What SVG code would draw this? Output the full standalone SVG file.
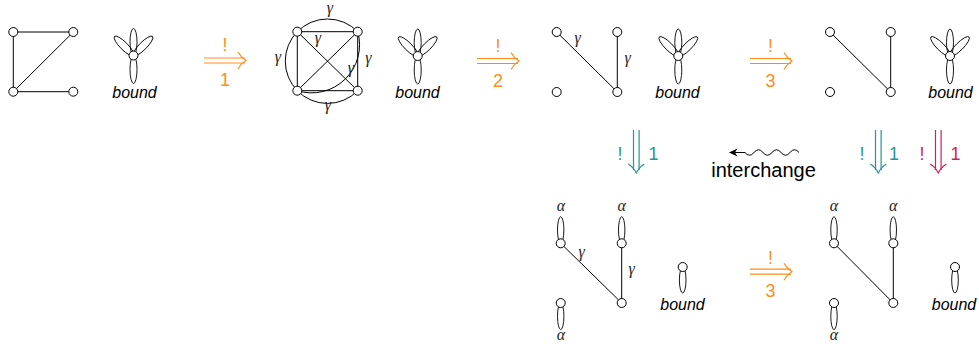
<svg xmlns="http://www.w3.org/2000/svg" xmlns:xlink="http://www.w3.org/1999/xlink" width="979" height="344" viewBox="0 0 979 344">
<style>
.e{fill:none;stroke:#000;stroke-width:1}
.n{fill:#fff;stroke:#000;stroke-width:1}
.p{fill:none;stroke:#000;stroke-width:0.9}
.g{font-family:"Liberation Serif",serif;font-style:italic;font-size:16px;fill:#222;text-anchor:middle}
.b{font-family:"Liberation Sans",Arial,sans-serif;font-style:italic;font-size:16px;fill:#000;text-anchor:middle}
.lab{font-family:"Liberation Sans",Arial,sans-serif;font-size:18px;text-anchor:middle}
.or{stroke:#FF8C1A;fill:none;stroke-width:1.2}
.te{stroke:#269696;fill:none;stroke-width:1.2}
.mg{stroke:#D21E5A;fill:none;stroke-width:1.2}
</style>
<defs>
<g id="flower">
<ellipse class="p" cx="0" cy="-13.5" rx="3.5" ry="13.5"/>
<ellipse class="p" cx="0" cy="14" rx="3.5" ry="14"/>
<ellipse class="p" cx="-9.5" cy="-9.5" rx="13.5" ry="3.8" transform="rotate(45 -9.5 -9.5)"/>
<ellipse class="p" cx="9.5" cy="-9.5" rx="13.5" ry="3.8" transform="rotate(-45 9.5 -9.5)"/>
<circle class="n" cx="0" cy="0" r="4.5"/>
</g>
<g id="petal1">
<ellipse class="p" cx="0" cy="13" rx="3.3" ry="13"/>
<circle class="n" cx="0" cy="0" r="4.5"/>
</g>
<g id="loopUp">
<ellipse class="p" cx="0" cy="-13.3" rx="3.2" ry="13.3"/>
<circle class="n" cx="0" cy="0" r="4.5"/>
</g>
<g id="loopDown">
<ellipse class="p" cx="0" cy="13.3" rx="3.2" ry="13.3"/>
<circle class="n" cx="0" cy="0" r="4.5"/>
</g>
<g id="rarrow">
<path d="M0,-2.5 H41 M0,2.5 H41"/>
<path d="M34,-8.5 Q37,-3 42,0 Q37,3 34,8.5"/>
</g>
<g id="darrow">
<path d="M-2.8,0 V40 M2.8,0 V40"/>
<path d="M-8,34 Q-3,37 0,43 Q3,37 8,34"/>
</g>
</defs>

<g id="connectors">
<path class="e" d="M13.3,32 H73.3 M13.3,32 V91.7 M73.3,32 L13.3,91.7 M13.3,91.7 H73.3"/>
<path class="e" d="M297.3,31.7 H357.7 V90.7 H297.3 Z M297.3,31.7 L357.7,90.7 M357.7,31.7 L297.3,90.7"/>
<path class="e" d="M297.3,31.7 A42.2,42.2 0 0 1 357.7,31.7"/>
<path class="e" d="M297.3,31.7 A42.2,42.2 0 0 0 297.3,90.7"/>
<path class="e" d="M297.3,90.7 A42.2,42.2 0 0 0 357.7,90.7"/>
<path class="e" d="M297.3,90.7 A48,48 0 0 0 357.7,31.7"/>
<path class="e" d="M556.7,32 L617.3,92 M617.3,32 V92"/>
<path class="e" d="M830,32 L890.7,92 M890.7,32 V92"/>
<path class="e" d="M560.7,243.3 L621.7,303 M621.7,243.3 V303"/>
<path class="e" d="M834,243.3 L893.3,303 M893.3,243.3 V303"/>
<use xlink:href="#rarrow" href="#rarrow" class="or" x="204" y="60.5"/>
<use xlink:href="#rarrow" href="#rarrow" class="or" x="477" y="61"/>
<use xlink:href="#rarrow" href="#rarrow" class="or" x="750" y="61"/>
<use xlink:href="#rarrow" href="#rarrow" class="or" x="750" y="271.7"/>
<use xlink:href="#darrow" href="#darrow" class="te" x="636.3" y="130"/>
<use xlink:href="#darrow" href="#darrow" class="te" x="878.3" y="130"/>
<use xlink:href="#darrow" href="#darrow" class="mg" x="938.3" y="130"/>
<path fill="none" stroke="#000" stroke-width="1" d="M799,152.5 Q794.5,147 790,152.5 T781,152.5 T772,152.5 T763,152.5 T754,152.5 T745,152.5 L733,152.5"/>
<path fill="#000" d="M729,152.5 L737.5,148.6 L735,152.5 L737.5,156.4 Z"/>
</g>

<g id="labels">
<text class="lab" x="225" y="51" fill="#FF8C1A">!</text>
<text class="lab" x="225" y="86" fill="#FF8C1A">1</text>
<text class="lab" x="498" y="51.5" fill="#FF8C1A">!</text>
<text class="lab" x="498" y="87" fill="#FF8C1A">2</text>
<text class="lab" x="770.5" y="51.5" fill="#FF8C1A">!</text>
<text class="lab" x="770.5" y="87" fill="#FF8C1A">3</text>
<text class="lab" x="770.5" y="263.5" fill="#FF8C1A">!</text>
<text class="lab" x="770.5" y="297" fill="#FF8C1A">3</text>
<text class="lab" x="620" y="160" fill="#269696">!</text>
<text class="lab" x="653.5" y="160" fill="#269696">1</text>
<text class="lab" x="862" y="160" fill="#269696">!</text>
<text class="lab" x="894" y="160" fill="#269696">1</text>
<text class="lab" x="922" y="160" fill="#D21E5A">!</text>
<text class="lab" x="955.5" y="160" fill="#D21E5A">1</text>
<text x="763.5" y="177" font-family="'Liberation Sans',Arial,sans-serif" font-size="20px" text-anchor="middle" fill="#000">interchange</text>
</g>

<g id="graph1">
<circle class="n" cx="13.3" cy="32" r="4.5"/>
<circle class="n" cx="73.3" cy="32" r="4.5"/>
<circle class="n" cx="13.3" cy="91.7" r="4.5"/>
<circle class="n" cx="73.3" cy="91.7" r="4.5"/>
</g>
<g id="bound1">
<use xlink:href="#flower" href="#flower" x="133.5" y="55.5"/>
<text class="b" x="134.5" y="98">bound</text>
</g>

<g id="graph2">
<circle class="n" cx="297.3" cy="31.7" r="4.5"/>
<circle class="n" cx="357.7" cy="31.7" r="4.5"/>
<circle class="n" cx="297.3" cy="90.7" r="4.5"/>
<circle class="n" cx="357.7" cy="90.7" r="4.5"/>
<text class="g" x="330" y="13">γ</text>
<text class="g" x="278" y="62">γ</text>
<text class="g" x="318" y="43">γ</text>
<text class="g" x="368.5" y="63">γ</text>
<text class="g" x="351" y="73">γ</text>
<text class="g" x="328" y="110">γ</text>
</g>
<g id="bound2">
<use xlink:href="#flower" href="#flower" x="417.7" y="56"/>
<text class="b" x="417.5" y="98">bound</text>
</g>

<g id="graph3">
<circle class="n" cx="556.7" cy="32" r="4.5"/>
<circle class="n" cx="617.3" cy="32" r="4.5"/>
<circle class="n" cx="556.7" cy="92" r="4.5"/>
<circle class="n" cx="617.3" cy="92" r="4.5"/>
<text class="g" x="577.7" y="43">γ</text>
<text class="g" x="627.7" y="63">γ</text>
</g>
<g id="bound3">
<use xlink:href="#flower" href="#flower" x="678.3" y="56"/>
<text class="b" x="677.5" y="98">bound</text>
</g>

<g id="graph4">
<circle class="n" cx="830" cy="32" r="4.5"/>
<circle class="n" cx="890.7" cy="32" r="4.5"/>
<circle class="n" cx="830" cy="92" r="4.5"/>
<circle class="n" cx="890.7" cy="92" r="4.5"/>
</g>
<g id="bound4">
<use xlink:href="#flower" href="#flower" x="950" y="56"/>
<text class="b" x="950.5" y="98">bound</text>
</g>

<g id="graph5">
<use xlink:href="#loopUp" href="#loopUp" x="560.7" y="243.3"/>
<use xlink:href="#loopUp" href="#loopUp" x="621.7" y="243.3"/>
<use xlink:href="#loopDown" href="#loopDown" x="560.7" y="303"/>
<circle class="n" cx="621.7" cy="303" r="4.5"/>
<text class="g" x="561" y="210.5">α</text>
<text class="g" x="621.7" y="210.5">α</text>
<text class="g" x="561" y="340">α</text>
<text class="g" x="581.7" y="257">γ</text>
<text class="g" x="631.7" y="274">γ</text>
</g>
<g id="bound5">
<use xlink:href="#petal1" href="#petal1" x="682.7" y="267"/>
<text class="b" x="682.5" y="310">bound</text>
</g>

<g id="graph6">
<use xlink:href="#loopUp" href="#loopUp" x="834" y="243.3"/>
<use xlink:href="#loopUp" href="#loopUp" x="893.3" y="243.3"/>
<use xlink:href="#loopDown" href="#loopDown" x="834" y="303"/>
<circle class="n" cx="893.3" cy="303" r="4.5"/>
<text class="g" x="834" y="210.5">α</text>
<text class="g" x="893.3" y="210.5">α</text>
<text class="g" x="834" y="340">α</text>
</g>
<g id="bound6">
<use xlink:href="#petal1" href="#petal1" x="955" y="267"/>
<text class="b" x="954" y="310">bound</text>
</g>
</svg>
